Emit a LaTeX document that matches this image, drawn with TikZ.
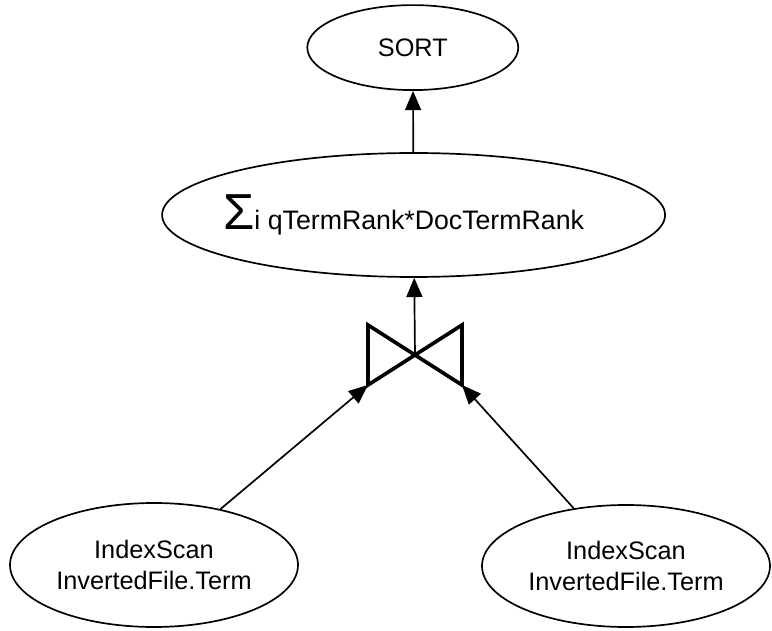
\documentclass[tikz,border=0pt]{standalone}
\usepackage{fontspec}
\setmainfont{Liberation Sans}
\usetikzlibrary{arrows.meta,shapes.geometric}

\begin{document}
\begin{tikzpicture}[
    op/.style={draw, ellipse, line width=1.2pt, inner sep=0pt, align=center,
      font=\fontsize{18}{22.5}\selectfont},
    flow/.style={-{Triangle[length=0.48cm,width=0.4cm]}, line width=1.2pt},
  ]
    \useasboundingbox (0,0) rectangle (19.3,15.75);
    \node[op, minimum width=5.275cm, minimum height=2.125cm] (sort) at (10.32, 14.56) {SORT} ;
    \node[op, minimum width=12.575cm, minimum height=3.1cm, font=\fontsize{19}{22.5}\selectfont] (sum) at (10.34, 10.375)
      {\makebox[8.5cm]{{\fontsize{36}{36}\selectfont Σ}i qTermRank*DocTermRank\hspace*{0.5cm}}} ;
    \node[op, minimum width=7.2cm, minimum height=3.1cm] (scanl) at (3.85, 1.625)
      {IndexScan\\InvertedFile.Term} ;
    \node[op, minimum width=7.2cm, minimum height=3.05cm] (scanr) at (15.65, 1.6)
      {IndexScan\\InvertedFile.Term} ;
    % join symbol
    \coordinate (join) at (10.375, 6.875) ;
    \coordinate (jointl) at (9.2, 7.625) ;
    \coordinate (joinbl) at (9.2, 6.125) ;
    \coordinate (jointr) at (11.55, 7.625) ;
    \coordinate (joinbr) at (11.55, 6.125) ;
    \draw [line width=2.6pt, line join=miter] (jointl) -- (joinbl) -- (jointr) -- (joinbr) -- cycle;
    \draw [flow] (sum) -- (sort);
    \draw [flow] (join) -- (sum);
    \draw [flow] (scanl) -- (joinbl);
    \draw [flow] (scanr) -- (joinbr);
  \end{tikzpicture}
\end{document}
